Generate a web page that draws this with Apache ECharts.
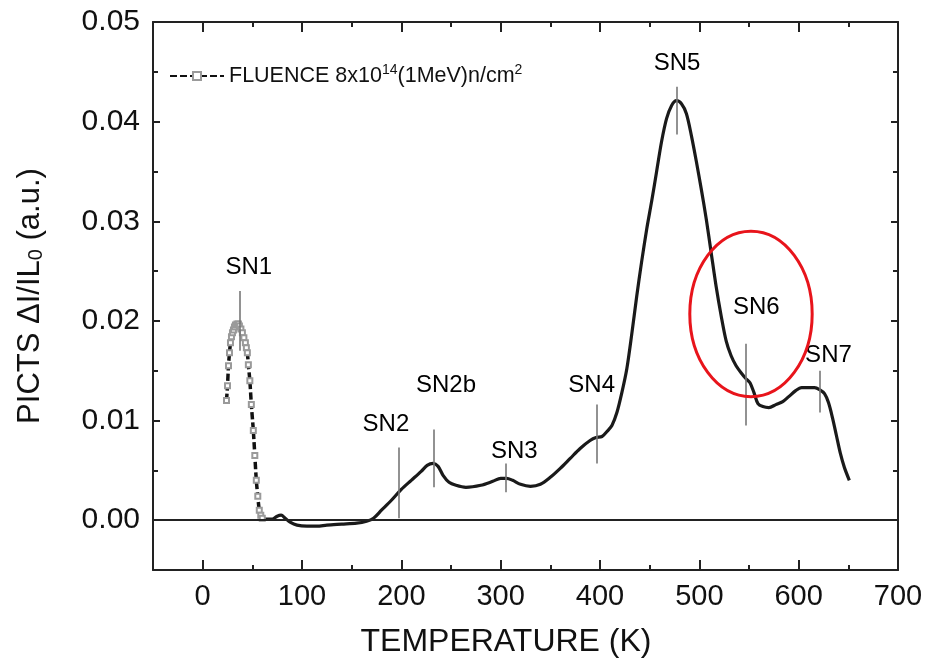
<!DOCTYPE html>
<html><head><meta charset="utf-8">
<script src="https://cdn.jsdelivr.net/npm/echarts@6/dist/echarts.min.js"></script>
<style>html,body{margin:0;padding:0;background:#fff}#c{width:925px;height:663px}</style>
</head><body><div id="c"></div>
<script>
// ---- axis ticks ----
const xTicks = [0, 100, 200, 300, 400, 500, 600, 700];
const xMinorTicks = [50, 150, 250, 350, 450, 550, 650];
const yTicks = [0, 0.01, 0.02, 0.03, 0.04, 0.05];
const yMinorTicks = [0.005, 0.015, 0.025, 0.035, 0.045];

// ---- SN1 segment (open squares) ----
const sn1T = [24, 25, 26, 27, 28, 29, 30, 31, 32, 33, 34.5, 36, 37, 38.5, 40, 41.5, 43, 44, 45, 46, 47.5, 49, 51, 52.5, 54, 55.5, 57, 58.5, 60];
const sn1V = [0.0120, 0.0135, 0.0155, 0.0168, 0.0178, 0.0184, 0.0188, 0.0191, 0.0194, 0.0196, 0.0197, 0.0197, 0.0195, 0.0192, 0.0188, 0.0183, 0.0178, 0.0173, 0.0168, 0.0156, 0.0140, 0.0116, 0.0090, 0.0065, 0.0040, 0.0024, 0.0010, 0.0005, 0.0002];

// ---- main curve ----
const mainT = [60, 65, 70, 75, 79, 83, 88, 95, 105, 115, 125, 140, 155, 165, 172, 180, 190, 200, 210, 220, 226, 232, 237, 242, 248, 255, 265, 280, 292, 300, 306, 312, 320, 330, 340, 350, 360, 370, 380, 390, 396, 402, 407, 412, 417, 422, 427, 432, 437, 442, 447, 452, 457, 462, 467, 472, 477, 482, 487, 492, 497, 502, 507, 512, 517, 522, 527, 532, 537, 542, 547, 551, 555, 559, 564, 570, 577, 584, 590, 597, 603, 610, 616, 621, 626, 630, 634, 638, 642, 646, 651];
const mainV = [0.0002, 0.0001, 0.0001, 0.0004, 0.0005, 0.0002, -0.0002, -0.0005, -0.0006, -0.0006, -0.0005, -0.0004, -0.0003, -0.0001, 0.0002, 0.0010, 0.0020, 0.0031, 0.0040, 0.0049, 0.0055, 0.0057, 0.0054, 0.0045, 0.0038, 0.0035, 0.0033, 0.0035, 0.0039, 0.0042, 0.0042, 0.0040, 0.0036, 0.0034, 0.0036, 0.0043, 0.0052, 0.0062, 0.0072, 0.0080, 0.0083, 0.0084, 0.0089, 0.0095, 0.0108, 0.0128, 0.0152, 0.0187, 0.0225, 0.0260, 0.0292, 0.0320, 0.0350, 0.0380, 0.0403, 0.0416, 0.0421, 0.0418, 0.0408, 0.0386, 0.0360, 0.0332, 0.0302, 0.0268, 0.0234, 0.0205, 0.0180, 0.0165, 0.0155, 0.0148, 0.0142, 0.0138, 0.0128, 0.0117, 0.0114, 0.0113, 0.0116, 0.0119, 0.0124, 0.0130, 0.0133, 0.0133, 0.0133, 0.0131, 0.0127, 0.0118, 0.0103, 0.0085, 0.0067, 0.0053, 0.0040];

// ---- peak annotations ----
const peakNames = ['SN1', 'SN2', 'SN2b', 'SN3', 'SN4', 'SN5', 'SN6', 'SN7'];
const peakT = [37, 197.7, 233, 304.8, 396.7, 477.5, 547, 621];
const peakLineLow = [0.0170, 0.0002, 0.0033, 0.0028, 0.0057, 0.0387, 0.0095, 0.0108];
const peakLineHigh = [0.0230, 0.0073, 0.0091, 0.0057, 0.0116, 0.0435, 0.0177, 0.0150];
const labelT = [46.5, 184.5, 245, 313.8, 391.6, 477.5, 557.3, 630];
const labelV = [0.0254, 0.0096, 0.0135, 0.0069, 0.0135, 0.0458, 0.0214, 0.0165];

// ---- highlight ellipse (data units) ----
const ellipseCenter = [552, 0.0207];
const ellipseRadius = [61.6, 0.0083];

const FONT = '"Liberation Sans", Arial, sans-serif';
const AX = '#222';

function xAx(pos, ticks, len, showLabel, showLine) {
  return {
    type: 'value', position: pos, min: -50, max: 700,
    splitLine: { show: false },
    axisLine: { show: showLine, onZero: false, lineStyle: { color: AX, width: 2 } },
    axisTick: { show: true, inside: true, length: len, customValues: ticks, lineStyle: { color: AX, width: 2 } },
    axisLabel: showLabel ? { show: true, customValues: ticks, margin: 12, fontSize: 29, color: '#111', fontFamily: FONT } : { show: false }
  };
}
function yAx(pos, ticks, len, showLabel, showLine) {
  return {
    type: 'value', position: pos, min: -0.005, max: 0.05,
    splitLine: { show: false },
    axisLine: { show: showLine, onZero: false, lineStyle: { color: AX, width: 2 } },
    axisTick: { show: true, inside: true, length: len, customValues: ticks, lineStyle: { color: AX, width: 2 } },
    axisLabel: showLabel ? { show: true, customValues: ticks, margin: 13, fontSize: 30, color: '#111', fontFamily: FONT, formatter: v => v.toFixed(2) } : { show: false }
  };
}

const chart = echarts.init(document.getElementById('c'));
const yAxes = [yAx('left', yTicks, 7, true, true), yAx('left', yMinorTicks, 5, false, false),
               yAx('right', yTicks, 7, false, true), yAx('right', yMinorTicks, 5, false, false)];
yAxes[0].name = '{a|PICTS ΔI/IL}{s|0}{a| (a.u.)}';
yAxes[0].nameLocation = 'middle';
yAxes[0].nameGap = 107;
yAxes[0].nameRotate = 90;
yAxes[0].nameTextStyle = { rich: { a: { fontSize: 31, fontFamily: FONT, color: '#111' }, s: { fontSize: 20, fontFamily: FONT, color: '#111', verticalAlign: 'bottom' } } };

const markLineData = [];
markLineData.push({ yAxis: 0, lineStyle: { color: '#222', width: 2, type: 'solid' } });
for (let i = 0; i < peakNames.length; i++) {
  markLineData.push([
    { coord: [peakT[i], peakLineLow[i]], lineStyle: { color: '#777', width: 1.6, type: 'solid' } },
    { coord: [peakT[i], peakLineHigh[i]] }
  ]);
}

chart.setOption({
  animation: false,
  grid: { left: 153, top: 22, right: 27, bottom: 93, containLabel: false, outerBoundsMode: 'none' },
  xAxis: [xAx('bottom', xTicks, 10, true, true), xAx('bottom', xMinorTicks, 5, false, false),
          xAx('top', xTicks, 10, false, true), xAx('top', xMinorTicks, 5, false, false)],
  yAxis: yAxes,
  legend: {
    data: ['FLUENCE'],
    left: 164, top: 58,
    itemWidth: 54, itemHeight: 10, itemGap: 5,
    formatter: () => '{a|FLUENCE 8x10}{s|14}{a|(1MeV)n/cm}{s|2}',
    textStyle: { rich: {
      a: { fontSize: 21.5, fontFamily: FONT, color: '#111' },
      s: { fontSize: 14, fontFamily: FONT, color: '#111', padding: [0, 0, 12, 0] }
    } }
  },
  series: [
    {
      name: 'FLUENCE', type: 'line', xAxisIndex: 0, yAxisIndex: 0,
      data: sn1T.map((t, i) => [t, sn1V[i]]),
      smooth: 0.3, symbol: 'emptyRect', symbolSize: 5, showSymbol: true,
      itemStyle: { color: '#9a9a9a', borderWidth: 1 },
      lineStyle: { color: '#111', width: 3.5, type: [7, 3] },
      z: 3
    },
    {
      name: 'main', type: 'line', xAxisIndex: 0, yAxisIndex: 0,
      data: mainT.map((t, i) => [t, mainV[i]]),
      smooth: 0.3, showSymbol: false, symbol: 'none',
      lineStyle: { color: '#1a1a1a', width: 3.2 },
      markLine: { silent: true, symbol: 'none', label: { show: false }, animation: false, data: markLineData },
      z: 3
    },
    {
      name: 'labels', type: 'scatter', xAxisIndex: 0, yAxisIndex: 0,
      data: labelT.map((t, i) => [t, labelV[i]]),
      symbolSize: 0.1, silent: true,
      itemStyle: { opacity: 1 },
      label: { show: true, position: 'inside', formatter: p => peakNames[p.dataIndex], fontSize: 24, color: '#000', opacity: 1, fontFamily: FONT },
      z: 4
    }
  ]
});

const c0 = chart.convertToPixel({ xAxisIndex: 0, yAxisIndex: 0 }, ellipseCenter);
const c1 = chart.convertToPixel({ xAxisIndex: 0, yAxisIndex: 0 }, [ellipseCenter[0] + ellipseRadius[0], ellipseCenter[1] + ellipseRadius[1]]);
chart.setOption({
  graphic: [
    { type: 'ellipse', z: 10, shape: { cx: c0[0], cy: c0[1], rx: Math.abs(c1[0] - c0[0]), ry: Math.abs(c1[1] - c0[1]) },
      style: { fill: 'none', stroke: '#e8141b', lineWidth: 3 } },
    { type: 'text', x: 506, y: 642, z: 10,
      style: { text: 'TEMPERATURE (K)', font: '32px ' + FONT, fill: '#111', textAlign: 'center', textVerticalAlign: 'middle' } }
  ]
});
</script></body></html>
